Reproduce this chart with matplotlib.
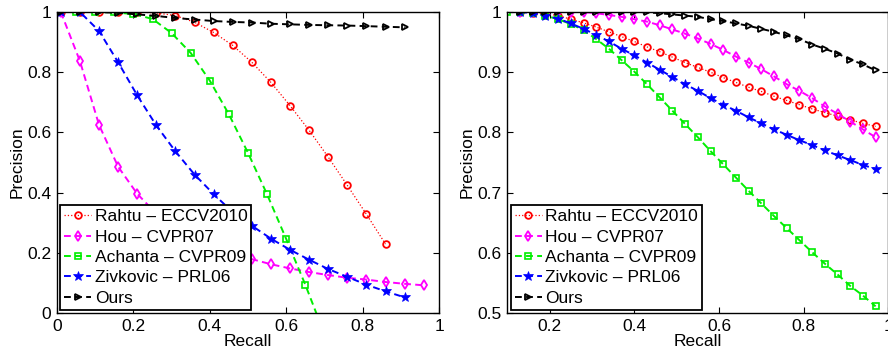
import numpy as np
import matplotlib
matplotlib.use('Agg')
import matplotlib.pyplot as plt

plt.rcParams['font.family'] = ['Liberation Sans', 'DejaVu Sans']
plt.rcParams['font.size'] = 12

labels = ['Rahtu – ECCV2010', 'Hou – CVPR07', 'Achanta – CVPR09',
          'Zivkovic – PRL06', 'Ours']

# ---- left panel ----
left_x = [0.01, 0.06, 0.11, 0.16, 0.21, 0.26, 0.31, 0.36, 0.41, 0.46,
          0.51, 0.56, 0.61, 0.66, 0.71, 0.76, 0.81, 0.86, 0.91, 0.96]
left_rahtu = [1.0, 1.0, 1.0, 1.0, 1.0, 0.997, 0.988, 0.966, 0.932, 0.889,
              0.833, 0.766, 0.689, 0.607, 0.518, 0.424, 0.328, 0.229]
left_hou = [1.0, 0.837, 0.625, 0.486, 0.396, 0.33, 0.28, 0.24, 0.215, 0.195,
            0.179, 0.162, 0.148, 0.136, 0.126, 0.117, 0.111, 0.103, 0.097, 0.092]
left_achanta_x = [0.0, 0.05, 0.10, 0.15, 0.20, 0.25, 0.30, 0.35, 0.40,
                  0.45, 0.50, 0.55, 0.60, 0.65, 0.70]
left_achanta = [1.0, 1.0, 1.0, 0.999, 0.993, 0.977, 0.930, 0.864, 0.772,
                0.660, 0.532, 0.394, 0.246, 0.094, -0.07]
left_zivkovic = [1.0, 1.0, 0.937, 0.833, 0.723, 0.623, 0.537, 0.460, 0.395,
                 0.335, 0.290, 0.247, 0.210, 0.177, 0.146, 0.120, 0.094,
                 0.072, 0.052]
left_ours = [1.0, 1.0, 1.0, 0.997, 0.992, 0.987, 0.980, 0.975, 0.970, 0.967,
             0.965, 0.961, 0.959, 0.957, 0.956, 0.955, 0.953, 0.951, 0.949]

# ---- right panel ----
right_x = [0.13, 0.16, 0.19, 0.22, 0.25, 0.28, 0.31, 0.34, 0.37, 0.40,
           0.43, 0.46, 0.49, 0.52, 0.55, 0.58, 0.61, 0.64, 0.67, 0.70,
           0.73, 0.76, 0.79, 0.82, 0.85, 0.88, 0.91, 0.94, 0.97]
right_rahtu = [1.0, 0.999, 0.997, 0.994, 0.988, 0.982, 0.975, 0.967, 0.959,
               0.951, 0.942, 0.934, 0.925, 0.916, 0.908, 0.900, 0.891, 0.883,
               0.875, 0.868, 0.860, 0.853, 0.846, 0.839, 0.833, 0.827, 0.821,
               0.815, 0.810]
right_hou = [1.0, 1.0, 1.0, 1.0, 1.0, 1.0, 0.998, 0.995, 0.992, 0.988, 0.984,
             0.978, 0.971, 0.964, 0.956, 0.947, 0.937, 0.926, 0.916, 0.905,
             0.893, 0.880, 0.869, 0.857, 0.843, 0.831, 0.818, 0.805, 0.792]
right_achanta_x = [0.10] + right_x
right_achanta = [1.0, 1.0, 0.998, 0.994, 0.988, 0.980, 0.970, 0.955, 0.939,
                 0.920, 0.901, 0.880, 0.858, 0.836, 0.814, 0.792, 0.769,
                 0.747, 0.725, 0.703, 0.682, 0.661, 0.641, 0.621, 0.601,
                 0.582, 0.564, 0.545, 0.529, 0.511]
right_zivkovic = [1.0, 0.998, 0.994, 0.989, 0.981, 0.972, 0.962, 0.951, 0.939,
                  0.928, 0.916, 0.904, 0.892, 0.880, 0.869, 0.857, 0.846,
                  0.836, 0.825, 0.815, 0.805, 0.796, 0.787, 0.779, 0.770,
                  0.762, 0.754, 0.746, 0.739]
right_ours = [1.0, 1.0, 1.0, 1.0, 1.0, 1.0, 1.0, 1.0, 1.0, 1.0, 0.9994,
              0.998, 0.996, 0.994, 0.992, 0.988, 0.985, 0.981, 0.977, 0.972,
              0.967, 0.961, 0.955, 0.946, 0.939, 0.931, 0.921, 0.913, 0.903]

DASH = (0, (3.5, 2.2))


def draw(ax, xs, ys):
    (rx, ry), (hx, hy), (ax_, ay), (zx, zy), (ox, oy) = zip(xs, ys)
    ax.plot(rx[:len(ry)], ry, color='#ff0000', ls=':', lw=0.9, marker='o',
            ms=4.8, mfc='none', mew=1.3, label=labels[0])
    ax.plot(hx[:len(hy)], hy, color='#ff00ff', ls=DASH, lw=1.4, marker='d',
            ms=5.2, mfc='none', mew=1.3, label=labels[1])
    ax.plot(ax_[:len(ay)], ay, color='#00ee00', ls=DASH, lw=1.4, marker='s',
            ms=3.8, mfc='none', mew=1.2, label=labels[2])
    ax.plot(zx[:len(zy)], zy, color='#0000ff', ls=DASH, lw=1.4, marker='*',
            ms=7.5, mew=0.5, label=labels[3])
    ax.plot(ox[:len(oy)], oy, color='black', ls=DASH, lw=1.4, marker='>',
            ms=4.8, mfc='none', mew=1.3, label=labels[4])
    ax.tick_params(direction='in', length=4, width=0.8, top=True, right=True,
                   labelsize=12.5, pad=4)
    for s in ax.spines.values():
        s.set_linewidth(1.0)
    ax.set_xlabel('Recall', fontsize=12.5, labelpad=0.5)
    ax.set_ylabel('Precision', fontsize=12.5, labelpad=2)
    leg = ax.legend(loc='lower left', fontsize=12.5, frameon=True, fancybox=False,
                    framealpha=1, edgecolor='black', borderpad=0.22,
                    labelspacing=0.3, handlelength=1.55, handletextpad=0.2,
                    borderaxespad=0.2)
    leg.get_frame().set_linewidth(1.3)


fig = plt.figure(figsize=(8.88, 3.54), dpi=100)

ax1 = fig.add_axes([57 / 888, 41 / 354, 382 / 888, 301 / 354])
draw(ax1,
     [left_x, left_x, left_achanta_x, left_x, left_x],
     [left_rahtu, left_hou, left_achanta, left_zivkovic, left_ours])
ax1.set_xlim(0, 1)
ax1.set_ylim(0, 1)
ax1.set_xticks([0, 0.2, 0.4, 0.6, 0.8, 1.0])
ax1.set_xticklabels(['0', '0.2', '0.4', '0.6', '0.8', '1'])
ax1.set_yticks([0, 0.2, 0.4, 0.6, 0.8, 1.0])
ax1.set_yticklabels(['0', '0.2', '0.4', '0.6', '0.8', '1'])

ax2 = fig.add_axes([507.3 / 888, 41 / 354, 381 / 888, 301 / 354])
draw(ax2,
     [right_x, right_x, right_achanta_x, right_x, right_x],
     [right_rahtu, right_hou, right_achanta, right_zivkovic, right_ours])
ax2.set_xlim(0.1, 1)
ax2.set_ylim(0.5, 1)
ax2.set_xticks([0.2, 0.4, 0.6, 0.8, 1.0])
ax2.set_xticklabels(['0.2', '0.4', '0.6', '0.8', '1'])
ax2.set_yticks([0.5, 0.6, 0.7, 0.8, 0.9, 1.0])
ax2.set_yticklabels(['0.5', '0.6', '0.7', '0.8', '0.9', '1'])

fig.savefig('out.png', dpi=100)
